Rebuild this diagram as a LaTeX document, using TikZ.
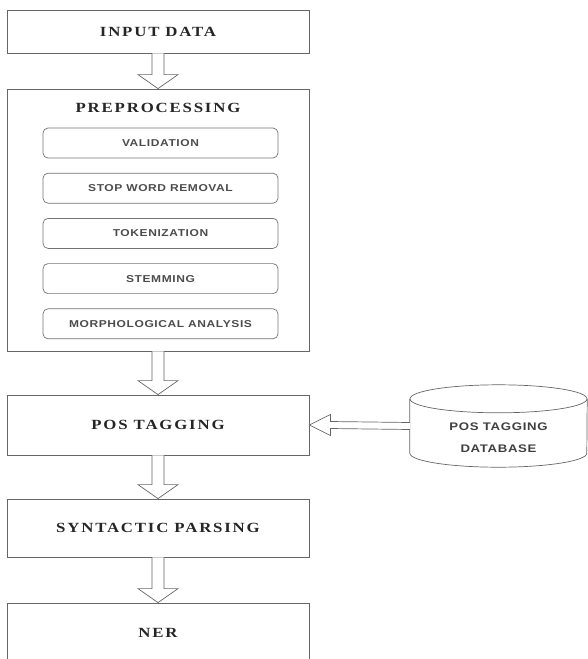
\documentclass[tikz,border=0pt]{standalone}
\usepackage{fontspec}
\setmainfont{Liberation Serif}
\newfontfamily\titlefont[FakeStretch=1.2,LetterSpace=13]{Liberation Serif}
\newfontfamily\stepfont[FakeStretch=1.2,LetterSpace=6]{Liberation Sans}
\usetikzlibrary{positioning, calc}

% hollow block arrow pointing down, from one box to the next
\newcommand{\fatdown}[2]{%
  \draw[fatarrow] ($(#1.south)+(-6,0)$) -- ($(#2.north)+(-6,-14)$) -- ($(#2.north)+(-20,-14)$)
    -- (#2.north) -- ($(#2.north)+(20,-14)$) -- ($(#2.north)+(6,-14)$) -- ($(#1.south)+(6,0)$);}

\begin{document}
\begin{tikzpicture}[x=1pt, y=-1pt,
    mainbox/.style={draw=black!60, line width=0.8pt, minimum width=302pt,
      font=\titlefont\bfseries\fontsize{14}{16}\selectfont, text=black!85},
    stepbox/.style={draw=black!55, line width=0.7pt, rounded corners=5pt,
      minimum width=235pt, minimum height=30pt,
      font=\stepfont\bfseries\fontsize{10}{12}\selectfont, text=black!70},
    fatarrow/.style={draw=black!60, line width=0.7pt, fill=white},
    dbline/.style={draw=black!60, line width=0.7pt}]
  \useasboundingbox (0,0) rectangle (587,659);

  \node[mainbox, minimum height=43pt] (input) at (158,31.5) {INPUT DATA};
  \node[mainbox, minimum height=262pt] (prep) at (158,220) {};
  \node[font=\titlefont\bfseries\fontsize{14}{16}\selectfont, text=black!85] (prephead) at (158,108) {PREPROCESSING};

  % steps inside preprocessing
  \node[stepbox] (val) at (160.5,143) {VALIDATION};
  \node[stepbox, below=14.5pt of val] (stop) {STOP WORD REMOVAL};
  \node[stepbox, below=14.5pt of stop] (token) {TOKENIZATION};
  \node[stepbox, below=14.5pt of token] (stem) {STEMMING};
  \node[stepbox, below=14.5pt of stem] (morph) {MORPHOLOGICAL ANALYSIS};

  \node[mainbox, minimum height=60pt] (pos) at (158,425) {POS TAGGING};
  \node[mainbox, minimum height=58pt] (syn) at (158,528) {SYNTACTIC PARSING};
  \node[mainbox, minimum height=60pt] (ner) at (158,633) {NER};

  % database drum
  \node[minimum width=177pt, minimum height=82pt, inner sep=0pt] (db) at (498.5,426) {};
  \draw[dbline] ($(db.north west)+(0,14)$) -- ($(db.south west)+(0,-14)$)
    arc[start angle=180, end angle=360, x radius=88.5pt, y radius=14pt] -- ($(db.north east)+(0,14)$);
  \draw[dbline] ($(db.north)+(0,14)$) ellipse[x radius=88.5pt, y radius=14pt];
  \node[align=center, font=\stepfont\bfseries\fontsize{11}{22}\selectfont, text=black!75] (dblabel) at (498.5,438) {POS TAGGING\\DATABASE};

  \fatdown{input}{prep}
  \fatdown{prep}{pos}
  \fatdown{pos}{syn}
  \fatdown{syn}{ner}

  % database feeds the tagger
  \draw[fatarrow] ($(db.west)+(0,-3.5)$) -- ($(pos.east)+(21,-3.5)$) -- ($(pos.east)+(21,-10.5)$)
    -- (pos.east) -- ($(pos.east)+(21,10.5)$) -- ($(pos.east)+(21,3.5)$) -- ($(db.west)+(0,3.5)$);
\end{tikzpicture}
\end{document}
